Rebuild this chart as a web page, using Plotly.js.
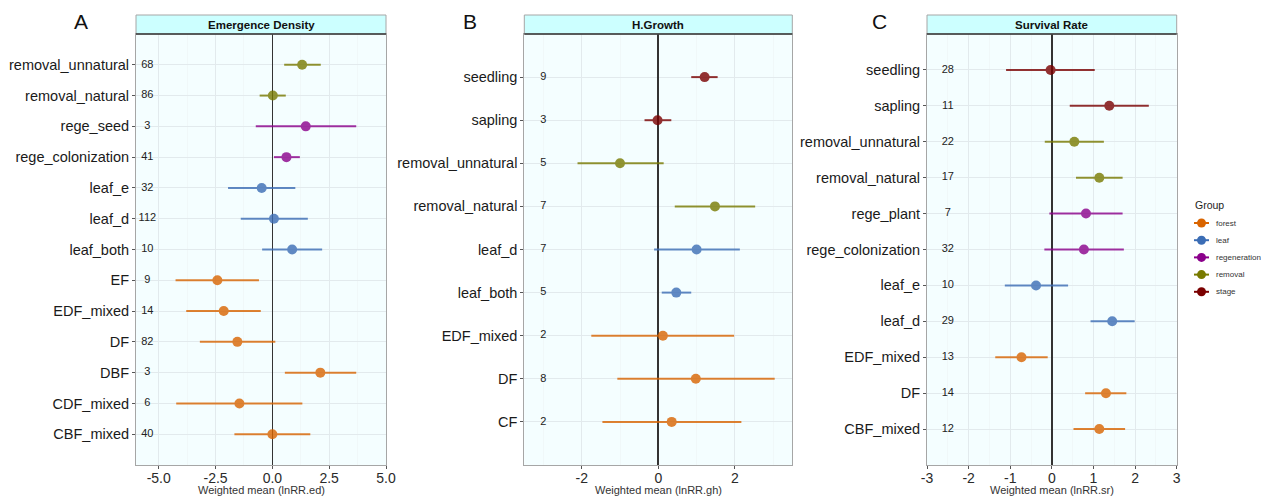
<!DOCTYPE html>
<html><head><meta charset="utf-8">
<script src="https://cdn.plot.ly/plotly-3.0.1.min.js"></script>
<style>html,body{margin:0;padding:0;background:#fff}#chart{width:1261px;height:496px}</style>
</head><body><div id="chart"></div>
<script>
// ---------- Panel A: Emergence Density ----------
const edCats  = ['removal_unnatural','removal_natural','rege_seed','rege_colonization','leaf_e','leaf_d','leaf_both','EF','EDF_mixed','DF','DBF','CDF_mixed','CBF_mixed'];
const edGroup = ['removal','removal','regeneration','regeneration','leaf','leaf','leaf','forest','forest','forest','forest','forest','forest'];
const edMean  = [1.31, 0.02, 1.47, 0.62, -0.47, 0.07, 0.87, -2.42, -2.14, -1.54, 2.11, -1.45, 0.00];
const edLow   = [0.52, -0.56, -0.73, 0.07, -1.95, -1.39, -0.45, -4.26, -3.79, -3.19, 0.55, -4.23, -1.67];
const edHigh  = [2.13, 0.59, 3.69, 1.21, 1.01, 1.56, 2.19, -0.59, -0.51, 0.13, 3.69, 1.32, 1.67];
const edN     = [68, 86, 3, 41, 32, 112, 10, 9, 14, 82, 3, 6, 40];
const edTicks = [-5, -2.5, 0, 2.5, 5];
const edTickText = ['-5.0','-2.5','0.0','2.5','5.0'];

// ---------- Panel B: H.Growth ----------
const ghCats  = ['seedling','sapling','removal_unnatural','removal_natural','leaf_d','leaf_both','EDF_mixed','DF','CF'];
const ghGroup = ['stage','stage','removal','removal','leaf','leaf','forest','forest','forest'];
const ghMean  = [1.21, -0.02, -1.00, 1.48, 1.00, 0.47, 0.12, 0.98, 0.35];
const ghLow   = [0.86, -0.36, -2.11, 0.43, -0.11, 0.09, -1.75, -1.07, -1.46];
const ghHigh  = [1.55, 0.34, 0.14, 2.53, 2.13, 0.86, 1.98, 3.04, 2.17];
const ghN     = [9, 3, 5, 7, 7, 5, 2, 8, 2];
const ghTicks = [-2, 0, 2];
const ghTickText = ['-2','0','2'];

// ---------- Panel C: Survival Rate ----------
const srCats  = ['seedling','sapling','removal_unnatural','removal_natural','rege_plant','rege_colonization','leaf_e','leaf_d','EDF_mixed','DF','CBF_mixed'];
const srGroup = ['stage','stage','removal','removal','regeneration','regeneration','leaf','leaf','forest','forest','forest'];
const srMean  = [-0.03, 1.38, 0.54, 1.14, 0.82, 0.77, -0.38, 1.45, -0.73, 1.30, 1.14];
const srLow   = [-1.10, 0.43, -0.17, 0.58, -0.06, -0.18, -1.13, 0.93, -1.36, 0.80, 0.52];
const srHigh  = [1.03, 2.33, 1.25, 1.70, 1.70, 1.73, 0.39, 1.99, -0.10, 1.79, 1.76];
const srN     = [28, 11, 22, 17, 7, 32, 10, 29, 13, 14, 12];
const srTicks = [-3, -2, -1, 0, 1, 2, 3];
const srTickText = ['-3','-2','-1','0','1','2','3'];

const groups = ['forest','leaf','regeneration','removal','stage'];
const groupColors = {forest:'#D96400', leaf:'#3B6DB5', regeneration:'#8B008B', removal:'#787A00', stage:'#7A0000'};

const FONT = 'Liberation Sans, Arial, Helvetica, sans-serif';
const W = 1261, H = 496;

const panels = [
  {cats:edCats, grp:edGroup, mean:edMean, lo:edLow, hi:edHigh, n:edN, nx:-5.5, range:[-6,5],
   ticks:edTicks, tickText:edTickText, minor:1.25, title:'Emergence Density', xt:'Weighted mean (lnRR.ed)',
   dom:[136/W, 386/W], letter:'A', lx:81/W},
  {cats:ghCats, grp:ghGroup, mean:ghMean, lo:ghLow, hi:ghHigh, n:ghN, nx:-3, range:[-3.5,3.5],
   ticks:ghTicks, tickText:ghTickText, minor:1, title:'H.Growth', xt:'Weighted mean (lnRR.gh)',
   dom:[524.3/W, 792.3/W], letter:'B', lx:469.5/W},
  {cats:srCats, grp:srGroup, mean:srMean, lo:srLow, hi:srHigh, n:srN, nx:-2.5, range:[-3,3],
   ticks:srTicks, tickText:srTickText, minor:0.5, title:'Survival Rate', xt:'Weighted mean (lnRR.sr)',
   dom:[927/W, 1176.7/W], letter:'C', lx:879/W}
];

const yDom = [31/H, 462/H];
const stripTop = (H-15)/H;

const traces = [];
const layout = {
  width:W, height:H,
  margin:{l:0, r:0, t:0, b:0},
  paper_bgcolor:'#ffffff',
  plot_bgcolor:'#F4FEFF',
  font:{family:FONT, color:'#1a1a1a'},
  showlegend:false,
  shapes:[], annotations:[]
};

panels.forEach((p, k) => {
  const sx = k === 0 ? '' : String(k+1);
  const xa = 'x' + sx, ya = 'y' + sx;
  groups.forEach(g => {
    const idx = p.grp.map((v,i)=> v===g ? i : -1).filter(i=>i>=0);
    if (!idx.length) return;
    traces.push({
      type:'scatter', mode:'markers', xaxis:xa, yaxis:ya, name:g, opacity:0.8,
      x: idx.map(i=>p.mean[i]), y: idx.map(i=>p.cats[i]),
      marker:{size:10, color:groupColors[g]},
      error_x:{type:'data', symmetric:false,
               array: idx.map(i=>p.hi[i]-p.mean[i]), arrayminus: idx.map(i=>p.mean[i]-p.lo[i]),
               color:groupColors[g], thickness:2, width:0},
      hoverinfo:'x+y'
    });
  });
  traces.push({
    type:'scatter', mode:'text', xaxis:xa, yaxis:ya,
    x: p.cats.map(()=>p.nx), y: p.cats, text: p.n.map(String),
    textfont:{size:11, color:'#222', family:FONT}, textposition:'middle center', hoverinfo:'skip'
  });
  layout['xaxis'+sx] = {
    domain:p.dom, anchor:ya, range:p.range, tickmode:'array', tickvals:p.ticks, ticktext:p.tickText,
    showgrid:true, gridcolor:'#e2eaed', gridwidth:1,
    minor:{tickmode:'linear', tick0:0, dtick:p.minor, showgrid:true, gridcolor:'#edf3f5', gridwidth:0.6, ticks:''},
    zeroline:true, zerolinecolor:'#333', zerolinewidth:1.6,
    showline:true, mirror:true, linecolor:'#a6a6a6', linewidth:1,
    ticks:'outside', ticklen:3, tickcolor:'#555', tickwidth:1,
    ticklabelstandoff:-3,
    tickfont:{size:14, color:'#2a2a2a'},
    fixedrange:true
  };
  layout['yaxis'+sx] = {
    domain:yDom, anchor:xa, type:'category', categoryorder:'array', categoryarray:p.cats,
    range:[p.cats.length, -1],
    showgrid:true, gridcolor:'#e2eaed', gridwidth:1, zeroline:false,
    showline:true, mirror:true, linecolor:'#a6a6a6', linewidth:1,
    ticks:'outside', ticklen:3, tickcolor:'#555', tickwidth:1,
    tickfont:{size:14.5, color:'#1a1a1a'}, fixedrange:true
  };
  layout.shapes.push({type:'rect', xref:xa+' domain', yref:'paper', x0:0, x1:1, y0:yDom[1], y1:stripTop,
    fillcolor:'#CCFFFF', line:{color:'#a6a6a6', width:1}, layer:'above'});
  layout.shapes.push({type:'line', xref:xa+' domain', yref:'paper', x0:0, x1:1, y0:yDom[1], y1:yDom[1],
    line:{color:'#333', width:1.3}, layer:'above'});
  layout.annotations.push({xref:xa+' domain', yref:'paper', x:0.5, y:(yDom[1]+stripTop)/2,
    text:'<b>'+p.title+'</b>', showarrow:false, font:{size:11.5, color:'#111'}, xanchor:'center', yanchor:'middle'});
  layout.annotations.push({xref:'paper', yref:'paper', x:p.lx, y:(H-22)/H, text:p.letter,
    showarrow:false, font:{size:21, color:'#111'}, xanchor:'center', yanchor:'middle'});
  // x-axis title
  layout.annotations.push({xref:xa+' domain', yref:'paper', x:0.5, y:(H-489.5)/H, text:p.xt,
    showarrow:false, font:{size:11, color:'#333'}, xanchor:'center', yanchor:'middle'});
});

// manual legend (ggplot-style pointrange key)
layout.annotations.push({xref:'paper', yref:'paper', x:1193/W, y:(H-205)/H, text:'Group',
  showarrow:false, font:{size:10.5, color:'#222'}, xanchor:'left', yanchor:'middle'});
groups.forEach((g, i) => {
  const cy = 223 + i*17.2;
  const yc = (H-cy)/H;
  layout.shapes.push({type:'line', xref:'paper', yref:'paper', x0:1194/W, x1:1209/W, y0:yc, y1:yc,
    line:{color:groupColors[g], width:2}});
  layout.shapes.push({type:'circle', xref:'paper', yref:'paper', x0:1197/W, x1:1206/W,
    y0:(H-cy-4.5)/H, y1:(H-cy+4.5)/H, fillcolor:groupColors[g], line:{color:groupColors[g], width:0}});
  layout.annotations.push({xref:'paper', yref:'paper', x:1214/W, y:yc, text:g,
    showarrow:false, font:{size:8, color:'#333'}, xanchor:'left', yanchor:'middle'});
});

Plotly.newPlot('chart', traces, layout, {displayModeBar:false, staticPlot:true});
</script>
</body></html>
